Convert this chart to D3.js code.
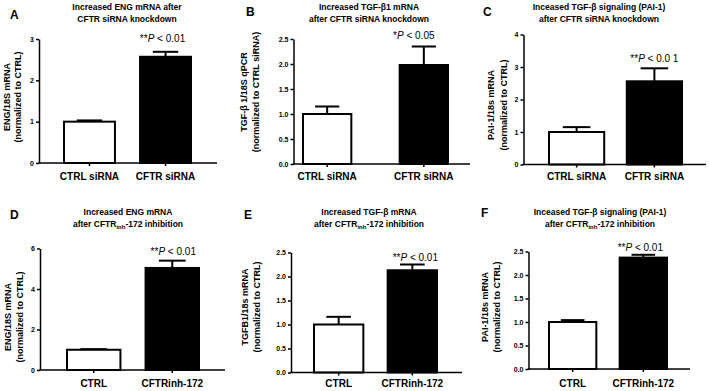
<!DOCTYPE html>
<html>
<head>
<meta charset="utf-8">
<script src="https://cdn.jsdelivr.net/npm/d3@7"></script>
<style>
  body { margin: 0; background: #fff; }
  svg { font-family: "Liberation Sans", Arial, sans-serif; }
</style>
</head>
<body>
<svg id="chart" width="709" height="391"></svg>
<script>
// group names
var groupsSi = ["CTRL siRNA", "CFTR siRNA"];
var groupsInh = ["CTRL", "CFTRinh-172"];

// means and error (SEM)
var engSi = [1.0, 2.57];
var engSiErr = [0.03, 0.12];
var tgfSi = [1.0, 1.98];
var tgfSiErr = [0.15, 0.37];
var paiSi = [1.0, 2.56];
var paiSiErr = [0.15, 0.40];
var engInh = [1.0, 5.04];
var engInhErr = [0.03, 0.36];
var tgfInh = [1.0, 2.13];
var tgfInhErr = [0.16, 0.12];
var paiInh = [1.0, 2.37];
var paiInhErr = [0.04, 0.06];

// tick values
var ticksA = [0, 1, 2, 3];
var ticksB = [0, 0.5, 1, 1.5, 2, 2.5];
var ticksC = [0, 1, 2, 3, 4];
var ticksD = [0, 2, 4, 6];
var ticksE = [0, 0.5, 1, 1.5, 2, 2.5];
var ticksF = [0, 0.5, 1, 1.5, 2, 2.5];

var svg = d3.select("#chart");

var panels = [
  {letter: "A", lx: 10, ly: 19, groups: groupsSi, vals: engSi, errs: engSiErr, ticks: ticksA, fmt: d3.format("d"),
   x0: 39, x1: 217, yTop: 39, yBot: 163, band: [64, 191], pad: 0.33, labY: 180,
   title: [["Increased ENG mRNA after"], ["CFTR siRNA knockdown"]], tx: 127, ty: 10,
   ylab: ["ENG/18S mRNA", "(normalized to CTRL)"], ylx: [-32, -21], yly: 97,
   star: "**", pval: " < 0.01", pdx: -3, pdy: -10},
  {letter: "B", lx: 246, ly: 16, groups: groupsSi, vals: tgfSi, errs: tgfSiErr, ticks: ticksB, fmt: d3.format(".1f"),
   x0: 293.5, x1: 470, yTop: 39, yBot: 164, band: [303, 448], pad: 0.5, labY: 180,
   title: [["Increased TGF-\u03b21 mRNA"], ["after CFTR siRNA knockdown"]], tx: 369, ty: 10,
   ylab: ["TGF-\u03b2 1/18S qPCR", "(normalized to CTRL siRNA)"], ylx: [-50, -38], yly: 92,
   star: "*", pval: " < 0.05", pdx: -10, pdy: -8},
  {letter: "C", lx: 483, ly: 16, groups: groupsSi, vals: paiSi, errs: paiSiErr, ticks: ticksC, fmt: d3.format("d"),
   x0: 523.5, x1: 706, yTop: 34.5, yBot: 164.5, band: [549, 682], pad: 0.29, labY: 180,
   title: [["Inceased TGF-\u03b2 signaling (PAI-1)"], ["after CFTR siRNA knockdown"]], tx: 599, ty: 10,
   ylab: ["PAI-1/18s mRNA", "(normalized to CTRL)"], ylx: [-33, -20], yly: 105,
   star: "**", pval: " < 0.0 1", pdx: 0, pdy: -6},
  {letter: "D", lx: 10, ly: 219, groups: groupsInh, vals: engInh, errs: engInhErr, ticks: ticksD, fmt: d3.format("d"),
   x0: 40, x1: 225, yTop: 248.5, yBot: 370, band: [67, 199], pad: 0.32, labY: 387,
   title: [["Increased ENG mRNA"], ["after CFTR", "inh", "-172 inhibition"]], tx: 128, ty: 215,
   ylab: ["ENG/18S mRNA", "(normalized to CTRL)"], ylx: [-32, -20], yly: 317,
   star: "**", pval: " < 0.01", pdx: 1, pdy: -6},
  {letter: "E", lx: 244, ly: 219, groups: groupsInh, vals: tgfInh, errs: tgfInhErr, ticks: ticksE, fmt: d3.format(".1f"),
   x0: 291, x1: 462, yTop: 252.5, yBot: 372.5, band: [314, 437], pad: 0.33, labY: 387,
   title: [["Increased TGF-\u03b2 mRNA"], ["after CFTR", "inh", "-172 inhibition"]], tx: 369, ty: 215,
   ylab: ["TGFB1/18s mRNA", "(normalized to CTRL)"], ylx: [-46, -34], yly: 307,
   star: "**", pval: " < 0.01", pdx: 3, pdy: -4},
  {letter: "F", lx: 481, ly: 217, groups: groupsInh, vals: paiInh, errs: paiInhErr, ticks: ticksF, fmt: d3.format(".1f"),
   x0: 528.5, x1: 690, yTop: 251.5, yBot: 369, band: [549, 667], pad: 0.33, labY: 387,
   title: [["Inceased TGF-\u03b2 signaling (PAI-1)"], ["after CFTR", "inh", "-172 inhibition"]], tx: 600, ty: 215,
   ylab: ["PAI-1/18s mRNA", "(normalized to CTRL)"], ylx: [-44, -32], yly: 307,
   star: "**", pval: " < 0.01", pdx: -3, pdy: -4}
];

panels.forEach(function(p){
  var g = svg.append("g");

  var x = d3.scaleBand()
    .domain(p.groups)
    .range(p.band)
    .paddingInner(p.pad)
    .paddingOuter(0);

  var y = d3.scaleLinear()
    .domain([0, d3.max(p.ticks)])
    .range([p.yBot, p.yTop]);

  // panel letter
  g.append("text")
    .attr("x", p.lx).attr("y", p.ly)
    .attr("font-size", 12).attr("font-weight", "bold")
    .text(p.letter);

  // title (two lines, second may have subscript)
  p.title.forEach(function(line, i){
    var t = g.append("text")
      .attr("x", p.tx).attr("y", p.ty + i * 11.5)
      .attr("text-anchor", "middle")
      .attr("font-size", 8.5).attr("font-weight", "bold");
    t.append("tspan").text(line[0]);
    if (line.length > 1) {
      t.append("tspan").attr("font-size", 6).attr("dy", 2).text(line[1]);
      t.append("tspan").attr("dy", -2).text(line[2]);
    }
  });

  // y axis
  var yAxis = d3.axisLeft(y)
    .tickValues(p.ticks)
    .tickFormat(p.fmt)
    .tickSize(3)
    .tickSizeOuter(0)
    .tickPadding(2);
  var ya = g.append("g")
    .attr("transform", "translate(" + p.x0 + ",0)")
    .call(yAxis);
  ya.select(".domain").attr("stroke-width", 1.5);
  ya.selectAll(".tick line").attr("stroke-width", 1.5);
  ya.selectAll(".tick text")
    .attr("font-size", 7).attr("font-weight", "bold")
    .attr("font-family", "Liberation Sans, Arial, sans-serif");

  // bars
  g.selectAll("rect.bar")
    .data(p.vals)
    .enter().append("rect")
      .attr("class", "bar")
      .attr("x", function(d, i){ return x(p.groups[i]); })
      .attr("y", function(d){ return y(d); })
      .attr("width", x.bandwidth())
      .attr("height", function(d){ return y(0) - y(d); })
      .attr("fill", function(d, i){ return i === 0 ? "#fff" : "#000"; })
      .attr("stroke", "#000")
      .attr("stroke-width", 2);

  // error bars
  p.vals.forEach(function(v, i){
    var cx = x(p.groups[i]) + x.bandwidth() / 2;
    var capW = x.bandwidth() * 0.25;
    g.append("line")
      .attr("x1", cx).attr("x2", cx)
      .attr("y1", y(v)).attr("y2", y(v + p.errs[i]))
      .attr("stroke", "#000").attr("stroke-width", 2);
    g.append("line")
      .attr("x1", cx - capW).attr("x2", cx + capW)
      .attr("y1", y(v + p.errs[i])).attr("y2", y(v + p.errs[i]))
      .attr("stroke", "#000").attr("stroke-width", 2);
  });

  // x axis
  var xAxis = d3.axisBottom(x).tickSize(3).tickSizeOuter(0).tickFormat("");
  var xa = g.append("g")
    .attr("transform", "translate(0," + p.yBot + ")")
    .call(xAxis);
  xa.select(".domain").remove();
  xa.selectAll(".tick line").attr("stroke-width", 1.5);
  g.append("line")
    .attr("x1", p.x0 - 0.75).attr("x2", p.x1)
    .attr("y1", p.yBot).attr("y2", p.yBot)
    .attr("stroke", "#000").attr("stroke-width", 1.5);

  // group labels
  g.selectAll("text.grp")
    .data(p.groups)
    .enter().append("text")
      .attr("class", "grp")
      .attr("x", function(d){ return x(d) + x.bandwidth() / 2; })
      .attr("y", p.labY)
      .attr("text-anchor", "middle")
      .attr("font-size", 10).attr("font-weight", "bold")
      .text(function(d){ return d; });

  // y axis title
  p.ylab.forEach(function(s, i){
    g.append("text")
      .attr("transform", "translate(" + (p.x0 + p.ylx[i]) + "," + p.yly + ") rotate(-90)")
      .attr("text-anchor", "middle")
      .attr("dy", "0.35em")
      .attr("font-size", 9).attr("font-weight", "bold")
      .text(s);
  });

  // significance
  var bx = x(p.groups[1]) + x.bandwidth() / 2;
  var st = g.append("text")
    .attr("x", bx + p.pdx)
    .attr("y", y(p.vals[1] + p.errs[1]) + p.pdy)
    .attr("text-anchor", "middle")
    .attr("font-size", 10);
  st.append("tspan").text(p.star);
  st.append("tspan").attr("font-style", "italic").text("P");
  st.append("tspan").text(p.pval);
});
</script>
</body>
</html>
